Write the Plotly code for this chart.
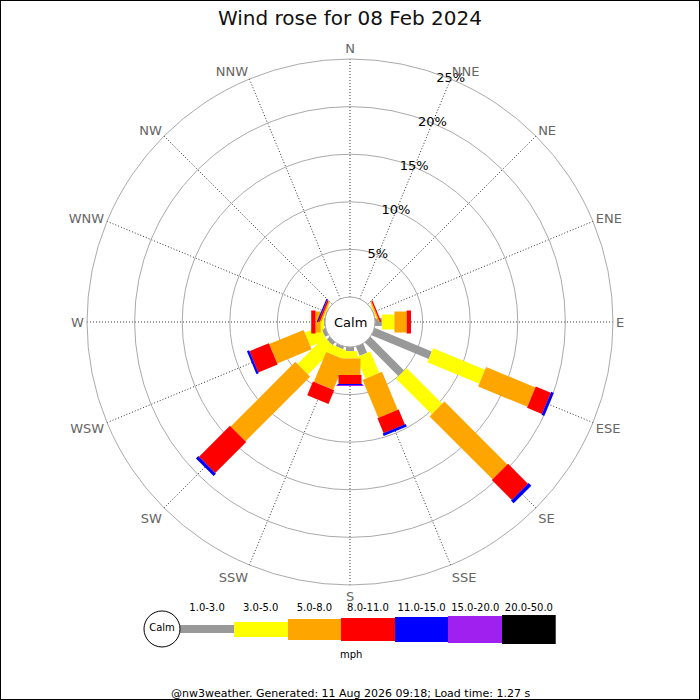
import numpy as np
import plotly.graph_objects as go

# wind directions (compass order, clockwise from N)
directions = ["N", "NNE", "NE", "ENE", "E", "ESE", "SE", "SSE",
              "S", "SSW", "SW", "WSW", "W", "WNW", "NW", "NNW"]

speed_bins = ["1.0-3.0", "3.0-5.0", "5.0-8.0", "8.0-11.0",
              "11.0-15.0", "15.0-20.0", "20.0-50.0"]

# % of time in each direction, per speed bin (mph)
pct_1_3 = [0, 0, 0, 0.05, 0.72, 6.5, 5.0, 1.05, 0.44, 0.3, 0.4, 0.4, 0.1, 0.05, 0, 0]
pct_3_5 = [0, 0, 0, 0.10, 1.32, 5.9, 5.3, 2.45, 0.76, 0.94, 4.0, 1.8, 0.35, 0.10, 0, 0]
pct_5_8 = [0, 0, 0, 0.13, 1.29, 5.6, 9.35, 4.33, 1.74, 3.39, 9.6, 3.9, 0.55, 0.15, 0, 0]
pct_8_11 = [0, 0, 0, 0.14, 0.45, 1.7, 2.95, 1.69, 0.96, 1.57, 4.6, 2.2, 0.45, 0.18, 0, 0]
pct_11_15 = [0, 0, 0, 0, 0, 0.3, 0.4, 0.28, 0.1, 0, 0.35, 0.25, 0, 0.12, 0, 0]
pct_15_20 = [0, 0, 0, 0, 0, 0, 0, 0, 0.1, 0, 0, 0, 0, 0, 0, 0]
pct_20_50 = [0] * 16

ring_values = [5, 10, 15, 20, 25]
ring_labels = ["5%", "10%", "15%", "20%", "25%"]

# styling
bin_colours = ["#999999", "#ffff00", "#ffa500", "#ff0000", "#0000ff", "#a020f0", "#000000"]
bar_px = [8, 15, 21, 23, 25, 27, 29]

freq = [pct_1_3, pct_3_5, pct_5_8, pct_8_11, pct_11_15, pct_15_20, pct_20_50]

fig = go.Figure()

# stacked rose bars drawn as thick line segments (constant pixel width)
base = np.zeros(len(directions))
for k, vals in enumerate(freq):
    vals = np.array(vals, dtype=float)
    r, th = [], []
    for d, v, b in zip(directions, vals, base):
        if v > 0:
            r += [b, b + v, None]
            th += [d, d, None]
    base = base + vals
    if r:
        fig.add_trace(go.Scatterpolar(r=r, theta=th, mode="lines",
                                      line=dict(color=bin_colours[k], width=bar_px[k]),
                                      hoverinfo="skip", showlegend=False))

# calm circle edge
fig.add_trace(go.Scatterpolar(r=[0] * (len(directions) + 1), theta=directions + ["N"],
                              mode="lines", line=dict(color="#bbbbbb", width=1),
                              hoverinfo="skip", showlegend=False))

# percentage labels along NNE
fig.add_trace(go.Scatterpolar(r=ring_values, theta=["NNE"] * len(ring_values),
                              mode="text", text=ring_labels,
                              textfont=dict(size=13, color="black"),
                              hoverinfo="skip", showlegend=False))

# colour key at the bottom
fig.add_trace(go.Bar(x=list(range(len(speed_bins))), y=bar_px,
                     base=[-h / 2 for h in bar_px], width=1,
                     marker=dict(color=bin_colours, line=dict(width=0)),
                     hoverinfo="skip", showlegend=False))
fig.add_trace(go.Scatter(x=[-0.84], y=[0], mode="markers+text", text=["Calm"],
                         marker=dict(size=36, color="white", line=dict(color="black", width=1)),
                         textfont=dict(size=10, color="black"), cliponaxis=False,
                         hoverinfo="skip", showlegend=False))

fig.update_layout(
    width=700, height=700,
    margin=dict(l=0, r=0, t=0, b=0),
    paper_bgcolor="white", plot_bgcolor="white",
    font=dict(family="DejaVu Sans", color="black"),
    title=dict(text="Wind rose for 08 Feb 2024", x=0.5, y=0.974, xanchor="center",
               yanchor="middle", font=dict(size=20, color="#111111")),
    polar=dict(
        domain=dict(x=[0.1243, 0.8757], y=[0.1643, 0.9157]),
        bgcolor="white",
        hole=0.095,
        radialaxis=dict(range=[0, 25], tickvals=ring_values, showticklabels=False,
                        ticks="", showline=False, gridcolor="#aaaaaa", gridwidth=1),
        angularaxis=dict(type="category", categoryorder="array", categoryarray=directions,
                         rotation=90, direction="clockwise", ticks="",
                         showline=True, linecolor="#aaaaaa", linewidth=1,
                         gridcolor="#333333", griddash="1px,2px", gridwidth=1,
                         tickfont=dict(size=13, color="#666666")),
    ),
    xaxis=dict(domain=[0.2, 0.7939], range=[-1.25, 6.5], side="top",
               tickmode="array", tickvals=list(range(len(speed_bins))), ticktext=speed_bins,
               tickfont=dict(size=10, color="black"), showgrid=False, zeroline=False,
               showline=False, ticks="", fixedrange=True),
    yaxis=dict(domain=[0.08, 0.1229], range=[-15, 15], visible=False, fixedrange=True),
    bargap=0,
    annotations=[
        dict(text="Calm", x=0.5, y=0.54, xref="paper", yref="paper", yanchor="middle",
             showarrow=False, font=dict(size=13, color="black")),
        dict(text="mph", x=0.501, y=0.0657, xref="paper", yref="paper", yanchor="middle",
             showarrow=False, font=dict(size=10, color="black")),
        dict(text="@nw3weather. Generated: 11 Aug 2026 09:18; Load time: 1.27 s",
             x=0.5, y=0.01, xref="paper", yref="paper", yanchor="middle",
             showarrow=False, font=dict(size=11, color="black")),
    ],
    shapes=[dict(type="rect", xref="paper", yref="paper", x0=0, x1=1, y0=0, y1=1,
                 line=dict(color="black", width=2))],
)

# drop the default page margin so the 700x700 figure fills the window
fig.write_html("out.html", config={"displayModeBar": False},
               post_script="document.body.style.margin='0';")
